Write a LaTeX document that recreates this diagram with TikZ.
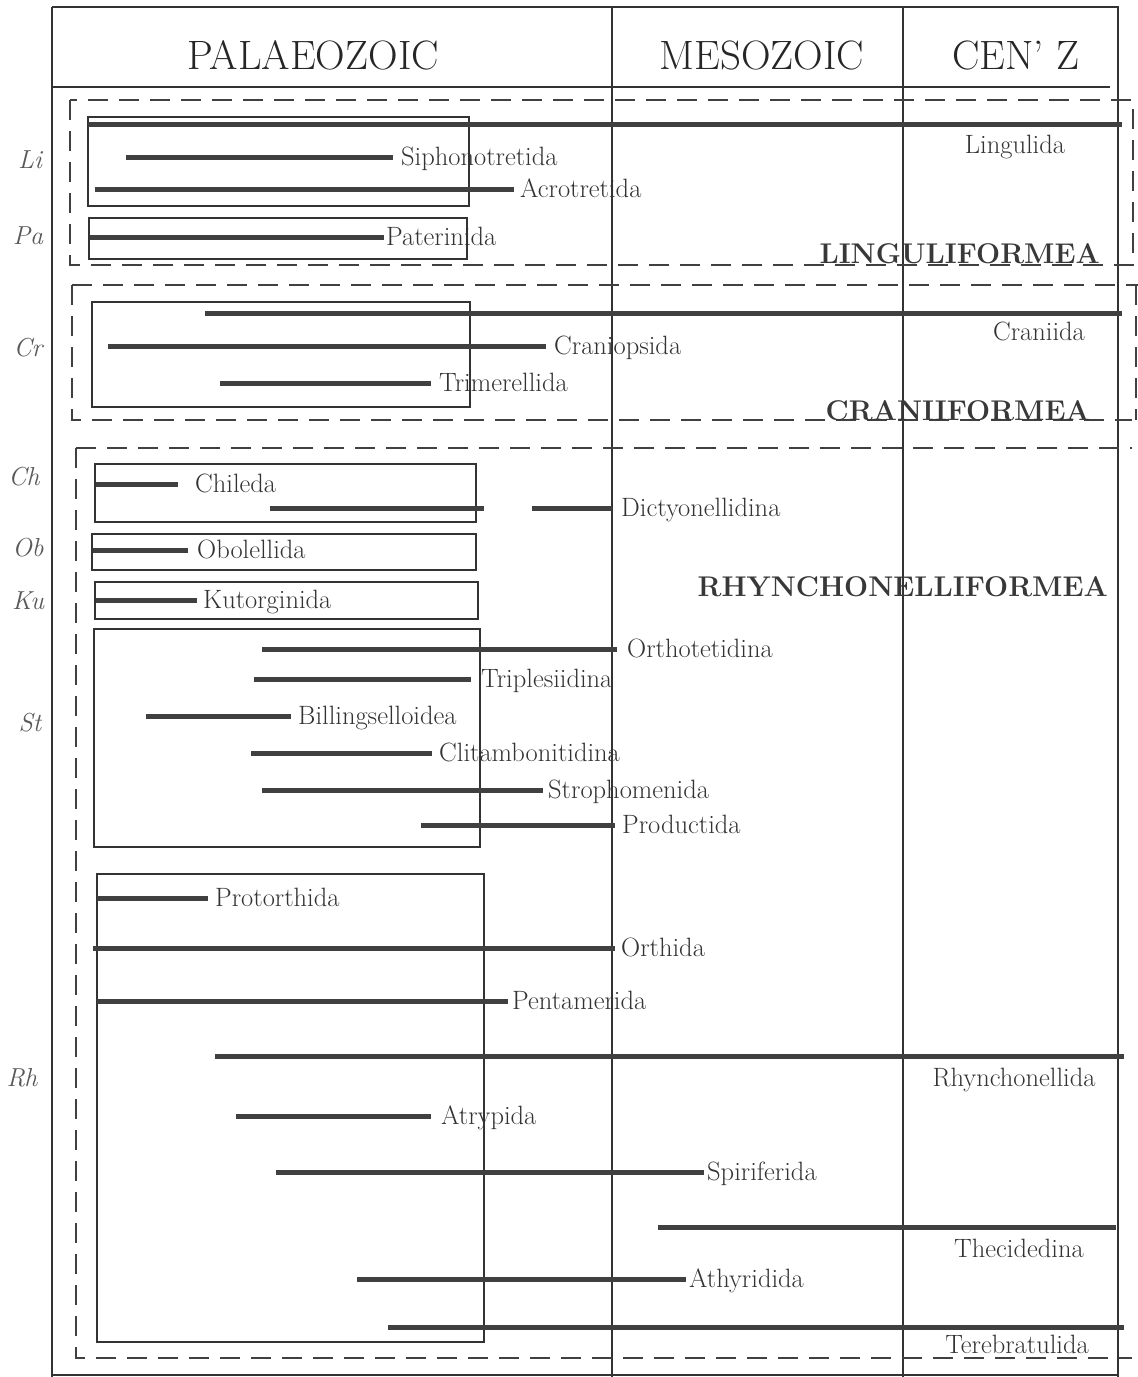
\documentclass[tikz,border=0pt]{standalone}
\usepackage{fontspec}
\newcommand\rangebar[6]{%
  \coordinate (#1-s) at (#2,#4);
  \coordinate (#1-e) at (#3,#4);
  \draw[bar] (#1-s) -- (#1-e);
  \node[lab] (#1) at (#5,#4+8) {#6};}
\begin{document}
\begin{tikzpicture}[x=1pt,y=-1pt,
  frame/.style={line width=1.8pt, draw=black!80},
  boxline/.style={line width=1.4pt, draw=black!80},
  grp/.style={line width=1.8pt, draw=black!75, dash pattern=on 20pt off 11pt},
  bar/.style={line width=5pt, draw=black!75},
  lab/.style={anchor=base west, inner sep=0pt, font=\fontsize{26.5}{28}\selectfont, text=black!80},
  rlab/.style={anchor=base, inner sep=0pt, font=\fontsize{26.5}{28}\selectfont, text=black!80},
  side/.style={anchor=base, inner sep=0pt, font=\fontsize{26}{28}\selectfont\itshape, text=black!65},
  era/.style={anchor=base, inner sep=0pt, font=\fontsize{41}{44}\selectfont, text=black!85},
  clade/.style={anchor=base east, inner sep=0pt, font=\fontsize{28.5}{31}\selectfont\bfseries, text=black!78}]
\fill[white] (0,0) rectangle (1138,1377);
\useasboundingbox (0,0) rectangle (1138,1377);

% frame
\coordinate (tl) at (52,7);
\coordinate (tr) at (1118,7);
\coordinate (bl) at (52,1375);
\coordinate (br) at (1118,1375);
\draw[frame] (tl) -- (tr) -- (1118,1377);
\draw[frame] (tl) -- (52,1377);
\draw[frame] (bl) -- (br);
\coordinate (hl) at (52,87);
\coordinate (hr) at (1110,87);
\draw[frame] (hl) -- (hr);
\coordinate (m1t) at (612,7);
\coordinate (m1b) at (612,1377);
\coordinate (m2t) at (903,7);
\coordinate (m2b) at (903,1377);
\draw[frame] (m1t) -- (m1b);
\draw[frame] (m2t) -- (m2b);

% era headings
\node[era] (pal) at (313,69) {PALAEOZOIC};
\node[era] (mes) at (762,69) {MESOZOIC};
\node[era] (cen) at (1016,69) {CEN' Z};

% dashed group boxes
\draw[grp] (70,100) rectangle (1133,265);
\draw[grp] (72,285) -- (1138,285);
\draw[grp] (72,285) -- (72,420) -- (1132,420);
\draw[grp] (1136,285) -- (1136,420);
\draw[grp] (76,448) -- (1132,448);
\draw[grp] (76,448) -- (76,1358) -- (1132,1358);

% solid sub-boxes
\draw[boxline] (88,117) rectangle (469,206);
\draw[boxline] (89,218) rectangle (467,259);
\draw[boxline] (92,302) rectangle (470,407);
\draw[boxline] (95,464) rectangle (476,522);
\draw[boxline] (92,534) rectangle (476,570);
\draw[boxline] (95,582) rectangle (478,619);
\draw[boxline] (94,629) rectangle (480,847);
\draw[boxline] (97,874) rectangle (484,1342);

% side labels
\node[side] (Li) at (30,168) {Li};
\node[side] (Pa) at (28,244) {Pa};
\node[side] (Cr) at (28,356) {Cr};
\node[side] (Ch) at (24,485) {Ch};
\node[side] (Ob) at (28,556) {Ob};
\node[side] (Ku) at (28,609) {Ku};
\node[side] (St) at (30,731) {St};
\node[side] (Rh) at (22,1086) {Rh};

% LINGULIFORMEA
\coordinate (lingS) at (88,124);
\coordinate (lingE) at (1122,124);
\draw[bar] (lingS) -- (lingE);
\node[rlab] (ling) at (1015,153) {Lingulida};
\rangebar{sipho}{126}{393}{157}{401}{Siphonotretida}
\rangebar{acro}{95}{514}{189}{520}{Acrotretida}
\rangebar{pater}{90}{384}{237}{386}{Paterinida}

% CRANIIFORMEA
\coordinate (cranS) at (205,313);
\coordinate (cranE) at (1122,313);
\draw[bar] (cranS) -- (cranE);
\node[rlab] (cran) at (1039,340) {Craniida};
\rangebar{cranio}{108}{546}{346}{554}{Craniopsida}
\rangebar{trim}{220}{431}{383}{439}{Trimerellida}

% RHYNCHONELLIFORMEA
\rangebar{chil}{96}{178}{484}{195}{Chileda}
\coordinate (dicA) at (270,508);
\coordinate (dicB) at (484,508);
\draw[bar] (dicA) -- (dicB);
\rangebar{dict}{532}{612}{508}{621}{Dictyonellidina}
\rangebar{obol}{93}{188}{550}{197}{Obolellida}
\rangebar{kuto}{96}{197}{600}{203}{Kutorginida}
\rangebar{ortt}{262}{617}{649}{627}{Orthotetidina}
\rangebar{trip}{254}{471}{679}{481}{Triplesiidina}
\rangebar{bill}{146}{291}{716}{298}{Billingselloidea}
\rangebar{clit}{251}{432}{753}{439}{Clitambonitidina}
\rangebar{stro}{262}{543}{790}{548}{Strophomenida}
\rangebar{prod}{421}{615}{825}{622}{Productida}
\rangebar{prot}{97}{208}{898}{215}{Protorthida}
\rangebar{orth}{93}{615}{948}{621}{Orthida}
\rangebar{pent}{97}{508}{1001}{512}{Pentamerida}
\coordinate (rhyS) at (215,1056);
\coordinate (rhyE) at (1124,1056);
\draw[bar] (rhyS) -- (rhyE);
\node[rlab] (rhyn) at (1014,1086) {Rhynchonellida};
\rangebar{atry}{236}{431}{1116}{441}{Atrypida}
\rangebar{spir}{276}{704}{1172}{707}{Spiriferida}
\coordinate (theS) at (658,1227);
\coordinate (theE) at (1116,1227);
\draw[bar] (theS) -- (theE);
\node[rlab] (thec) at (1019,1257) {Thecidedina};
\rangebar{athy}{357}{686}{1279}{689}{Athyridida}
\coordinate (terS) at (388,1327);
\coordinate (terE) at (1124,1327);
\draw[bar] (terS) -- (terE);
\node[rlab] (tere) at (1017,1353) {Terebratulida};

% clade names
\node[clade] (cLing) at (1100,263) {LINGULIFORMEA};
\node[clade] (cCran) at (1090,420) {CRANIIFORMEA};
\node[clade] (cRhyn) at (1108,596) {RHYNCHONELLIFORMEA};
\end{tikzpicture}
\end{document}
